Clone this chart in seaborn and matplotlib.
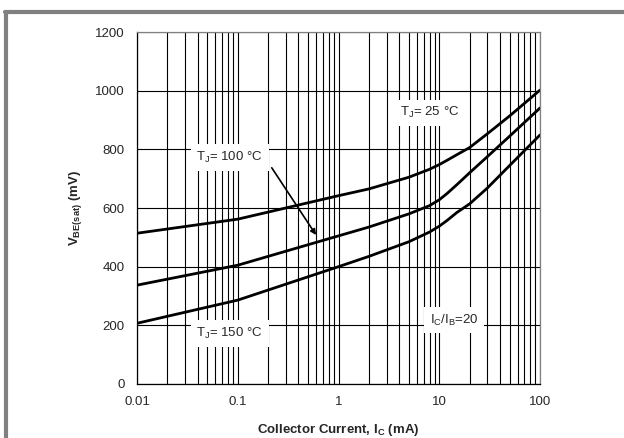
import numpy as np
import pandas as pd
import seaborn as sns
import matplotlib.pyplot as plt
from matplotlib.lines import Line2D

# collector current (mA)
ic = [0.01, 0.1, 1, 2, 5, 8, 10, 12, 15, 20, 30, 50, 100]
# VBE(sat) in mV for each junction temperature
vbe_25 = [514, 562, 642, 665, 705, 732, 748, 763, 782, 806, 853, 914, 1002]
vbe_100 = [337, 405, 505, 535, 580, 608, 628, 650, 680, 720, 775, 845, 941]
vbe_150 = [207, 286, 400, 435, 485, 518, 538, 558, 585, 614, 668, 745, 849]
temps = ["25", "100", "150"]

df = pd.DataFrame({
    "Ic": ic * 3,
    "Vbe": vbe_25 + vbe_100 + vbe_150,
    "Tj": [t for t in temps for _ in ic],
})

sns.set_style("white")
plt.rcParams["font.family"] = ["Liberation Sans", "DejaVu Sans"]

fig = plt.figure(figsize=(6.24, 4.38), dpi=100)
ax = fig.add_axes([0.2196, 0.1233, 0.6458, 0.8036])

sns.lineplot(data=df, x="Ic", y="Vbe", units="Tj", estimator=None,
             color="black", linewidth=2.0, ax=ax, legend=False)

ax.set_xscale("log")
ax.set_xlim(0.01, 100)
ax.set_ylim(0, 1200)
ax.set_yticks(range(0, 1201, 200))
ax.set_xticks([0.01, 0.1, 1, 10, 100])
ax.set_xticklabels(["0.01", "0.1", "1", "10", "100"])
ax.grid(True, which="major", axis="both", color="black", linewidth=0.8)
ax.grid(True, which="minor", axis="x", color="black", linewidth=0.8)
ax.tick_params(axis="both", which="major", direction="out", length=5,
               width=0.8, color="black", labelsize=9.5, pad=4)
ax.tick_params(axis="x", which="minor", length=0)
for s in ["left", "bottom"]:
    ax.spines[s].set_color("black")
    ax.spines[s].set_linewidth(0.9)
for s in ["top", "right"]:
    ax.spines[s].set_color("#808080")
    ax.spines[s].set_linewidth(0.9)

ax.set_xlabel("Collector Current, I$_\\mathregular{C}$ (mA)",
              fontsize=9.5, fontweight="bold", labelpad=10)
ax.set_ylabel("V$_\\mathregular{BE(sat)}$ (mV)", fontsize=9.5,
              fontweight="bold", labelpad=8)

box = dict(facecolor="white", edgecolor="none", pad=4)
ax.text(8.1, 925, "T$_\\mathregular{J}$= 25 °C", fontsize=9.5, ha="center",
        va="center", bbox=box)
ax.text(0.083, 772, "T$_\\mathregular{J}$= 100 °C", fontsize=9.5, ha="center",
        va="center", bbox=box)
ax.text(0.083, 172, "T$_\\mathregular{J}$= 150 °C", fontsize=9.5, ha="center",
        va="center", bbox=box)
ax.text(14, 218, "I$_\\mathregular{C}$/I$_\\mathregular{B}$=20", fontsize=9.5,
        ha="center", va="center", bbox=box)
ax.annotate("", xy=(0.62, 500), xytext=(0.21, 745),
            arrowprops=dict(arrowstyle="-|>", color="black", lw=1.2,
                            mutation_scale=8))

# grey frame at top and left
fig.add_artist(Line2D([0.008, 1.0], [0.973, 0.973], color="#808080",
                      linewidth=3, transform=fig.transFigure))
fig.add_artist(Line2D([0.010, 0.010], [0.0, 0.973], color="#808080",
                      linewidth=3, transform=fig.transFigure))

fig.savefig("out.png", dpi=100)
